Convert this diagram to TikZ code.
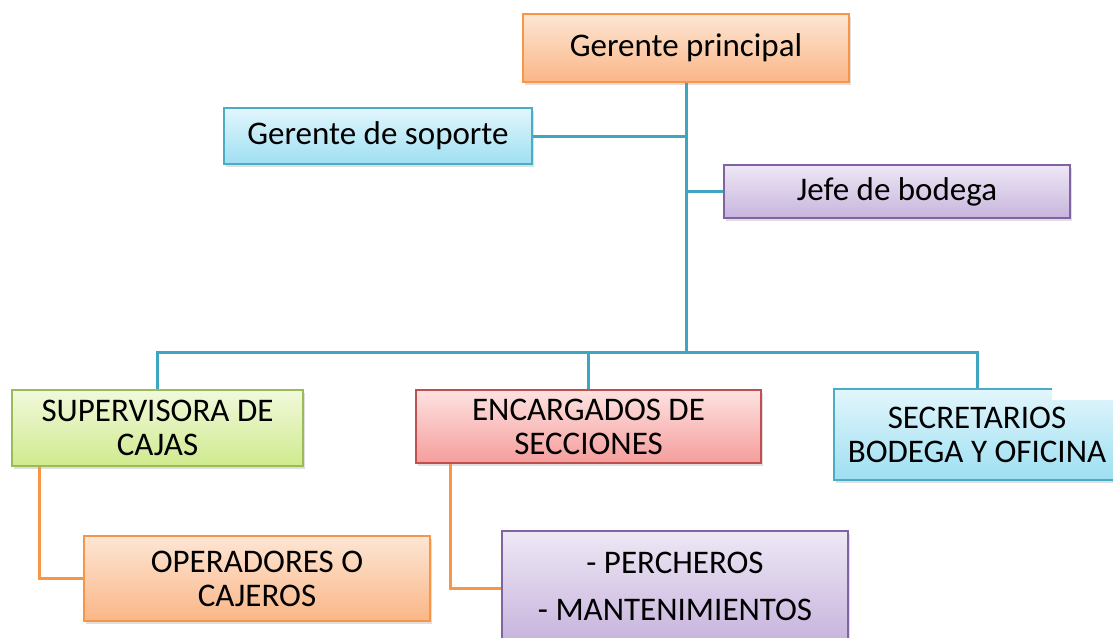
\documentclass[tikz,border=0pt]{standalone}
\usepackage{fontspec}
\setmainfont{Carlito}
\usepackage{xcolor}
\usetikzlibrary{positioning,shadows}
\definecolor{orbord}{HTML}{F79646}
\definecolor{ortop}{HTML}{FDE6D4}
\definecolor{orbot}{HTML}{FAB687}
\definecolor{blbord}{HTML}{4BACC6}
\definecolor{bltop}{HTML}{E2F6FC}
\definecolor{blbot}{HTML}{9EDFF2}
\definecolor{pubord}{HTML}{8064A2}
\definecolor{putop}{HTML}{EEE8F5}
\definecolor{pubot}{HTML}{C7B4DD}
\definecolor{grbord}{HTML}{9BBB59}
\definecolor{grtop}{HTML}{F1F9DC}
\definecolor{grbot}{HTML}{CFEA8D}
\definecolor{rdbord}{HTML}{C0504D}
\definecolor{rdtop}{HTML}{FDE2E1}
\definecolor{rdbot}{HTML}{F59E9C}
\definecolor{tealline}{HTML}{3FA6C2}
\tikzset{%
	box/.style      = {rectangle, line width=1.3pt, align=center, font=\fontsize{33}{34}\selectfont,
	                   drop shadow={shadow xshift=2pt, shadow yshift=-3pt, opacity=0.25}},
	orbox/.style    = {box, draw=orbord, top color=ortop, bottom color=orbot}, % orange
	blbox/.style    = {box, draw=blbord, top color=bltop, bottom color=blbot}, % blue
	pubox/.style    = {box, draw=pubord, top color=putop, bottom color=pubot}, % purple
	grbox/.style    = {box, draw=grbord, top color=grtop, bottom color=grbot}, % green
	rdbox/.style    = {box, draw=rdbord, top color=rdtop, bottom color=rdbot}, % red
	tline/.style    = {draw=tealline, line width=3pt},
	oline/.style    = {draw=orbord, line width=3pt},
}

\begin{document}
\begin{tikzpicture}[x=1pt,y=-1pt]
	\path[use as bounding box] (0,0) rectangle (1113,637);
	\clip (0,0) rectangle (1113,637);
	\coordinate (bus) at (686,352);
	
	\draw[tline] (bus) -- (686,82);
	\draw[tline] (157.5,390) |- (bus) -| (977,389);
	\draw[tline] (588.5,390) -- (588.5,352);
	
	\node [orbox, minimum width=326pt, minimum height=68pt] (gp) at (686,48) {Gerente principal};
	\node [blbox, minimum width=308pt, minimum height=56pt] (gs) at (378,136) {Gerente de soporte};
	\node [pubox, minimum width=346pt, minimum height=53pt] (jb) at (897,191.5) {Jefe de bodega};
	\node [grbox, minimum width=291pt, minimum height=76pt] (sc) at (157.5,428) {SUPERVISORA DE\\CAJAS};
	\node [rdbox, minimum width=345pt, minimum height=73pt] (es) at (588.5,426.5) {ENCARGADOS DE\\SECCIONES};
	\node [blbox, minimum width=286pt, minimum height=91pt] (sb) at (977,434.5) {SECRETARIOS\\BODEGA Y OFICINA};
	\node [orbox, minimum width=346pt, minimum height=85pt] (oc) at (257,578.5) {OPERADORES O\\CAJEROS};
	\node [pubox, minimum width=346pt, minimum height=110pt] (pm) at (675,586) {- PERCHEROS\\[13pt]- MANTENIMIENTOS};
	
	\draw[tline] (gs.east) -- (gs.east -| gp.south);
	\draw[tline] (jb.west) -- (jb.west -| gp.south);
	\draw[oline] ([xshift=28pt]sc.south west) |- (oc.west);
	\draw[oline] ([xshift=35pt]es.south west) |- ([yshift=-2pt]pm.west);
	\fill[white] (1052,378) rectangle (1113,400);
\end{tikzpicture}
\end{document}
